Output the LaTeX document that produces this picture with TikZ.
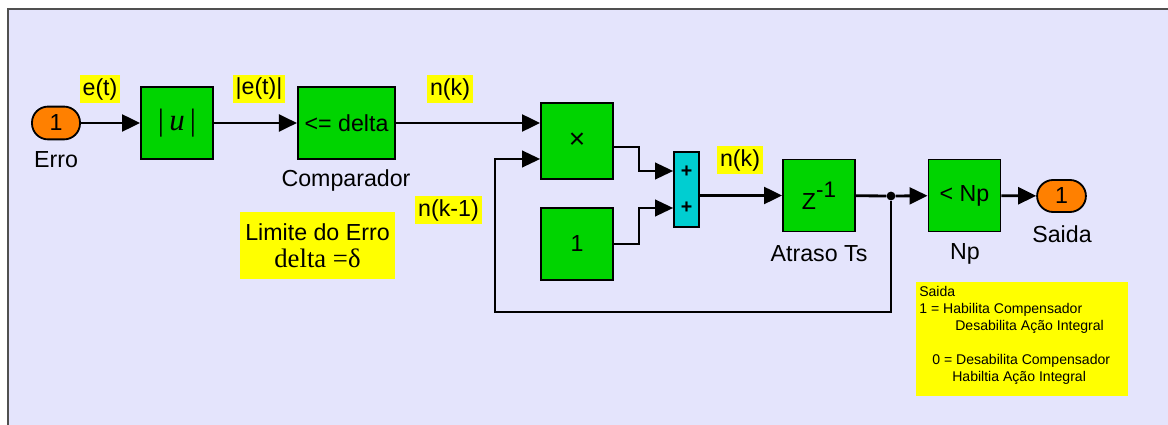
\documentclass[tikz,border=0pt]{standalone}
\usepackage{fontspec}
\setmainfont{Liberation Sans}
\newfontfamily\serifa{Liberation Serif}
\usepackage{tikz}
\usetikzlibrary{arrows.meta, positioning, calc}
\definecolor{simfundo}{HTML}{E4E4FC}
\definecolor{simverde}{HTML}{00D400}
\definecolor{simciano}{HTML}{00CED1}
\definecolor{simlaranja}{HTML}{FF8000}
\definecolor{simamarelo}{HTML}{FFFF00}
\definecolor{simborda}{HTML}{505050}
\newcommand{\fonteb}{\fontsize{16.5}{19}\selectfont}
\newcommand{\fontep}{\fontsize{10}{12.1}\selectfont}
\newcommand{\expoente}[1]{\raisebox{0.5em}{\fontsize{16}{16}\selectfont #1}}
\tikzset{
  bloco/.style={draw=black, line width=1.3pt, fill=simverde, minimum width=1.8cm, minimum height=1.8cm, inner sep=0pt, font=\fonteb},
  porta/.style={draw=black, line width=1.3pt, fill=simlaranja, rounded corners=0.4cm, minimum width=1.2cm, minimum height=0.82cm, inner sep=0pt, font=\fonteb},
  nome/.style={font=\fonteb, inner sep=0pt},
  sinal/.style={fill=simamarelo, font=\fonteb, inner sep=2pt},
  fio/.style={line width=2pt, -{Triangle[length=0.45cm, width=0.42cm]}},
  fiofino/.style={line width=1.1pt, -{Triangle[length=0.45cm, width=0.42cm]}},
}

\begin{document}
\begin{tikzpicture}[x=0.025cm, y=-0.025cm]
  \useasboundingbox (0,0) rectangle (1168,425);
  \fill[simfundo] (8,9) rectangle (1168,425);
  \draw[simborda, line width=1.5pt] (8,425) -- (8,9) -- (1168,9);

  % blocos
  \node[porta] (erro) at (56,123) {1};
  \node[bloco, font=\serifa\fontsize{22}{24}\selectfont] (abs) at (177,123) {|\,\textit{u}\,|};
  \node[bloco, minimum width=2.43cm] (comp) at (346.5,123) {<= delta};
  \node[bloco, minimum height=1.9cm, font=\fontsize{20}{22}\selectfont] (mult) at (577,141) {×};
  \node[bloco] (um) at (577,244) {1};
  \node[draw=black, line width=1.3pt, fill=simciano, minimum width=0.625cm, minimum height=1.875cm, inner sep=0pt] (soma) at (686.5,189.5) {};
  \node[font=\bfseries\fontsize{14}{14}\selectfont] (mais1) at (686.5,172) {+};
  \node[font=\bfseries\fontsize{14}{14}\selectfont] (mais2) at (686.5,208) {+};
  \node[bloco] (atraso) at (819,195.5) {Z\expoente{-1}};
  \node[circle, fill=black, inner sep=0pt, minimum size=0.22cm] (ramo) at (891,196) {};
  \node[bloco] (np) at (964.5,195.5) {< Np};
  \node[porta, minimum width=1.22cm, minimum height=0.8cm] (saida) at (1061.5,196) {1};

  % ligacoes
  \draw[fio] (erro) -- (abs);
  \draw[fio] (abs) -- (comp);
  \draw[fio] (comp) -- (comp -| mult.west);
  \draw[fiofino] ($(mult.east)+(0,6)$) -- ++(25,0) |- ($(soma.west)+(0,-18.5)$);
  \draw[fiofino] (um.east) -- ++(25,0) |- ($(soma.west)+(0,18.5)$);
  \draw[fio] (soma.east |- atraso) -- (atraso);
  \draw[line width=2pt] (atraso) -- (ramo);
  \draw[fio] (ramo) -- (np);
  \draw[fio] (np) -- (saida);
  \coordinate (retorno) at (495,312);
  \draw[fiofino] (ramo) |- (retorno) |- ($(mult.west)+(0,18)$);

  % nomes
  \node[nome] (lerro) at (56,160) {Erro};
  \node[nome] (lcomp) at (346,181) {Comparador};
  \node[nome] (latraso) at (819,254) {Atraso Ts};
  \node[nome] (lnp) at (965,254) {Np};
  \node[nome] (lsaida) at (1062,234) {Saida};

  % sinais
  \node[sinal] (et) at (100,89) {e(t)};
  \node[sinal] (abset) at (259,89) {|e(t)|};
  \node[sinal] (nk) at (450,89) {n(k)};
  \node[sinal] (nk1) at (448.5,210) {n(k-1)};
  \node[sinal] (nk2) at (740,160) {n(k)};
  \node[sinal, align=center, minimum width=3.875cm, minimum height=1.675cm] (limite) at (317.5,245.5) {Limite do Erro\\{\serifa\fontsize{19}{19}\selectfont delta =δ}};
  \node[fill=simamarelo, minimum width=5.3cm, minimum height=2.85cm] (nota) at (1022,339) {};
  \node[anchor=north west, align=left, font=\fontep, inner sep=0pt] (notatexto) at (919,286) {Saida\\1 = Habilita Compensador\\\hspace*{0.9cm}Desabilita Ação Integral\\[12.1pt]\hspace*{0.325cm}0 = Desabilita Compensador\\\hspace*{0.825cm}Habiltia Ação Integral};
\end{tikzpicture}
\end{document}
